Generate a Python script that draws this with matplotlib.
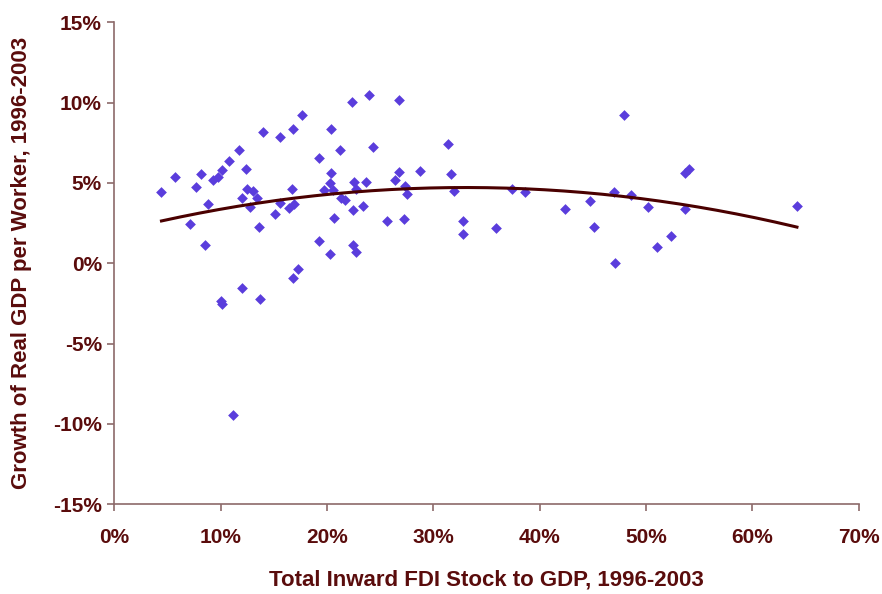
import numpy as np
import matplotlib
matplotlib.use("Agg")
from matplotlib import pyplot as plt
import matplotlib.ticker as mticker

# FDI stock to GDP (%) and growth of real GDP per worker (%)
fdi = [4.42, 5.71, 8.10, 7.70, 8.80, 7.11, 8.50, 9.30, 9.70, 10.10,
       10.79, 11.69, 12.39, 12.49, 12.99, 11.99, 12.79, 13.38, 13.58, 13.98,
       15.57, 16.77, 17.67, 16.67, 15.57, 15.08, 16.37, 16.87, 17.27, 16.77,
       11.99, 10.00, 10.10, 13.68, 11.19,
       22.35, 23.94, 26.73, 20.36, 19.26, 21.25, 24.34, 31.41, 20.36, 20.26,
       19.66, 20.56, 22.55, 23.64, 22.75, 21.35, 21.65, 22.45, 23.35, 20.66,
       26.43, 26.73, 27.33, 27.53, 28.72, 31.61, 31.91, 25.64, 27.23, 32.81,
       32.81, 35.90, 19.26, 20.26, 22.45, 22.75,
       47.95, 37.39, 38.59, 46.95, 48.55, 42.37, 44.76, 50.14, 53.63, 53.63,
       45.06, 52.33, 51.04, 47.05, 54.03, 64.19]
growth = [4.47, 5.35, 5.54, 4.73, 3.68, 2.44, 1.14, 5.18, 5.37, 5.83,
          6.39, 7.05, 5.85, 4.61, 4.52, 4.04, 3.52, 4.06, 2.26, 8.19,
          7.88, 8.36, 9.22, 4.61, 3.78, 3.09, 3.46, 3.69, -0.38, -0.93,
          -1.52, -2.35, -2.55, -2.24, -9.44,
          10.04, 10.46, 10.15, 8.36, 6.58, 7.05, 7.23, 7.43, 5.64, 5.02,
          4.57, 4.57, 5.08, 5.08, 4.61, 4.04, 3.92, 3.30, 3.56, 2.82,
          5.18, 5.69, 4.81, 4.29, 5.75, 5.54, 4.48, 2.63, 2.74, 2.63,
          1.81, 2.18, 1.39, 0.58, 1.16, 0.72,
          9.22, 4.65, 4.41, 4.43, 4.25, 3.38, 3.86, 3.48, 3.38, 5.60,
          2.26, 1.70, 1.04, 0.02, 5.89, 3.54]

x_ticks = [0, 10, 20, 30, 40, 50, 60, 70]
y_ticks = [-15, -10, -5, 0, 5, 10, 15]

text_col = '#5a0c0c'
axis_col = '#8c6a6a'
fnt = 'Liberation Sans'

fig = plt.figure(figsize=(8.82, 5.94), dpi=100)
ax = fig.add_axes([0.1298, 0.151, 0.8438, 0.8114])

ax.scatter(fdi, growth, marker='D', s=30, color='#5a3ddc', linewidths=0, zorder=3)

# polynomial (order 2) trendline like excel
coef = np.polyfit(fdi, growth, 2)
xs = np.linspace(min(fdi), max(fdi), 200)
ax.plot(xs, np.polyval(coef, xs), color='#4a0000', lw=2.2, zorder=4)

ax.set_xlim(0, 70)
ax.set_ylim(-15, 15)
ax.set_xticks(x_ticks)
ax.set_yticks(y_ticks)
ax.xaxis.set_major_formatter(mticker.FuncFormatter(lambda v, p: f'{v:.0f}%'))
ax.yaxis.set_major_formatter(mticker.FuncFormatter(lambda v, p: f'{v:.0f}%'))

for s in ['top', 'right']:
    ax.spines[s].set_visible(False)
for s in ['left', 'bottom']:
    ax.spines[s].set_color(axis_col)
    ax.spines[s].set_linewidth(1.2)

ax.tick_params(axis='both', direction='out', length=5, width=1.2, color=axis_col,
               labelcolor=text_col, labelsize=15)
ax.tick_params(axis='x', pad=12)
ax.tick_params(axis='y', pad=4)
for lbl in ax.get_xticklabels() + ax.get_yticklabels():
    lbl.set_fontfamily(fnt)
    lbl.set_fontweight('bold')

ax.set_xlabel('Total Inward FDI Stock to GDP, 1996-2003', fontsize=16, fontweight='bold',
              color=text_col, family=fnt, labelpad=16)
ax.set_ylabel('Growth of Real GDP per Worker, 1996-2003', fontsize=16, fontweight='bold',
              color=text_col, family=fnt, labelpad=15)

plt.savefig('out.png', dpi=100)
plt.close()
